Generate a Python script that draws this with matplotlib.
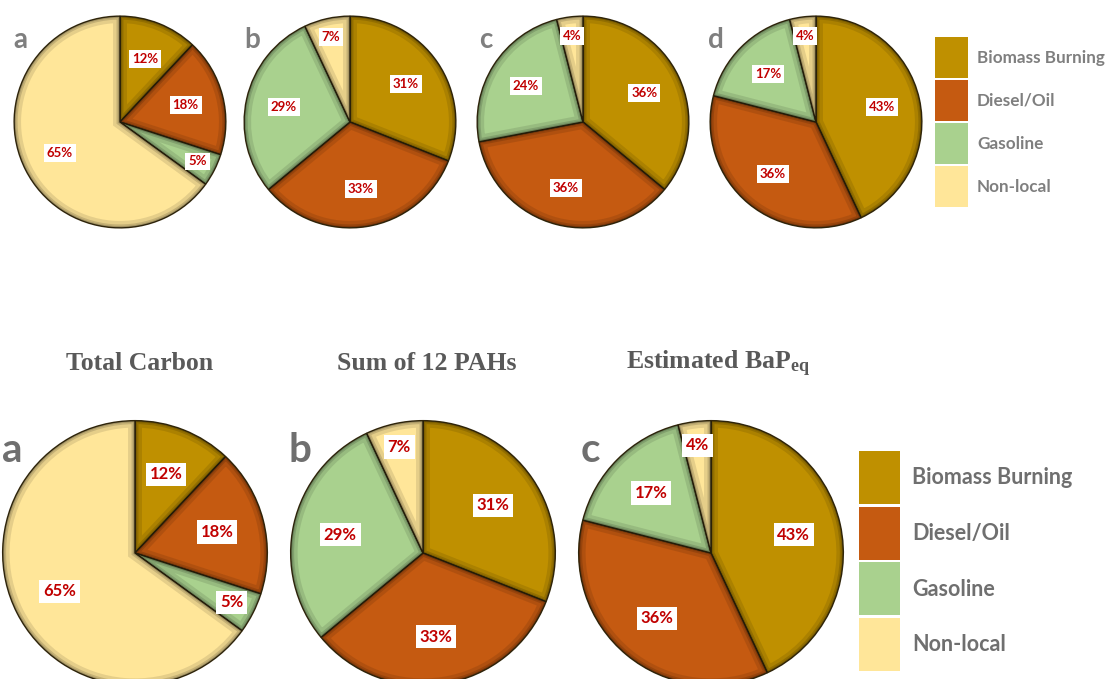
import matplotlib
matplotlib.use("Agg")
import matplotlib.pyplot as plt
import numpy as np
from matplotlib.patches import Rectangle

# ---------------- data ----------------
sources = ["Biomass Burning", "Diesel/Oil", "Gasoline", "Non-local"]
top_letters = ["a", "b", "c", "d"]
top_a = [12, 18, 5, 65]
top_b = [31, 33, 29, 7]
top_c = [36, 36, 24, 4]
top_d = [43, 36, 17, 4]
bottom_letters = ["a", "b", "c"]
bottom_titles = ["Total Carbon", "Sum of 12 PAHs", "Estimated BaP$_{\\mathregular{eq}}$"]
bottom_a = [12, 18, 5, 65]
bottom_b = [31, 33, 29, 7]
bottom_c = [43, 36, 17, 4]

# ---------------- style ----------------
colors = ["#BF9000", "#C55A11", "#A9D18E", "#FFE699"]
W, H = 1107, 679
plt.rcParams["mathtext.default"] = "regular"
fig = plt.figure(figsize=(W / 100, H / 100), dpi=100)
fig.patch.set_facecolor("white")


def px_axes(cx, cy, r):
    return fig.add_axes([(cx - r) / W, (H - cy - r) / H, 2 * r / W, 2 * r / H])


def draw_pie(ax, vals, fs):
    wedges, _ = ax.pie(vals, colors=colors, startangle=90, counterclock=False,
                       radius=1.0,
                       wedgeprops=dict(edgecolor="#3a2e10", linewidth=1.0))
    # inner shadow for each wedge
    for w in wedges:
        for lw, a in [(10, 0.10), (5, 0.14), (2.5, 0.18)]:
            sh = matplotlib.patches.Wedge(w.center, w.r, w.theta1, w.theta2,
                                          fill=False, edgecolor="black",
                                          linewidth=lw, alpha=a)
            ax.add_patch(sh)
            sh.set_clip_path(w)
    total = float(sum(vals))
    for w, v in zip(wedges, vals):
        mid = np.deg2rad((w.theta1 + w.theta2) / 2)
        d = 0.82 if v / total < 0.08 else 0.64
        ax.text(d * np.cos(mid), d * np.sin(mid), f"{v}%", ha="center", va="center",
                color="#C00000", fontsize=fs, fontweight="bold", family="Lato",
                bbox=dict(boxstyle="square,pad=0.22", fc="white", ec="none"))
    ax.set_xlim(-1.02, 1.02)
    ax.set_ylim(-1.02, 1.02)
    ax.set_aspect("auto")
    ax.axis("off")


# ---------------- top row ----------------
top_vals = [top_a, top_b, top_c, top_d]
top_cx = [120, 350, 583, 816]
top_lx = [20, 252, 486, 716]
for vals, cx, lx, lt in zip(top_vals, top_cx, top_lx, top_letters):
    ax = px_axes(cx, 122, 108)
    draw_pie(ax, vals, 9.5)
    fig.text(lx / W, 1 - 40 / H, lt, ha="center", va="center", color="#7F7F7F",
             fontsize=20, fontweight="bold", family="Lato")

# top legend
for i, (c, lab) in enumerate(zip(colors, sources)):
    y0 = 37 + i * 43
    fig.patches.append(Rectangle((935 / W, 1 - (y0 + 41) / H), 33 / W, 41 / H,
                                 transform=fig.transFigure, facecolor=c,
                                 edgecolor="none"))
    fig.text(977 / W, 1 - (y0 + 21) / H, lab, ha="left", va="center",
             color="#7F7F7F", fontsize=12.3, fontweight="bold", family="Lato")

# ---------------- bottom row ----------------
bot_vals = [bottom_a, bottom_b, bottom_c]
bot_cx = [135, 423, 711]
bot_lx = [12, 300, 590]
title_x = [140, 427, 718]
for vals, cx, lx, lt, tt, tx in zip(bot_vals, bot_cx, bot_lx, bottom_letters,
                                    bottom_titles, title_x):
    ax = px_axes(cx, 553, 135)
    draw_pie(ax, vals, 12)
    fig.text(lx / W, 1 - 450 / H, lt, ha="center", va="center", color="#6F6F6F",
             fontsize=29, fontweight="bold", family="Lato")
    fig.text(tx / W, 1 - 364 / H, tt, ha="center", va="center", color="#595959",
             fontsize=18.5, fontweight="bold", family="Liberation Serif")

# bottom legend
for i, (c, lab) in enumerate(zip(colors, sources)):
    y0 = 451 + i * 55.5
    fig.patches.append(Rectangle((859 / W, 1 - (y0 + 53) / H), 41 / W, 53 / H,
                                 transform=fig.transFigure, facecolor=c,
                                 edgecolor="none"))
    fig.text(912 / W, 1 - (y0 + 27) / H, lab, ha="left", va="center",
             color="#6F6F6F", fontsize=15.5, fontweight="bold", family="Lato")

fig.savefig("out.png", dpi=100, facecolor="white")
